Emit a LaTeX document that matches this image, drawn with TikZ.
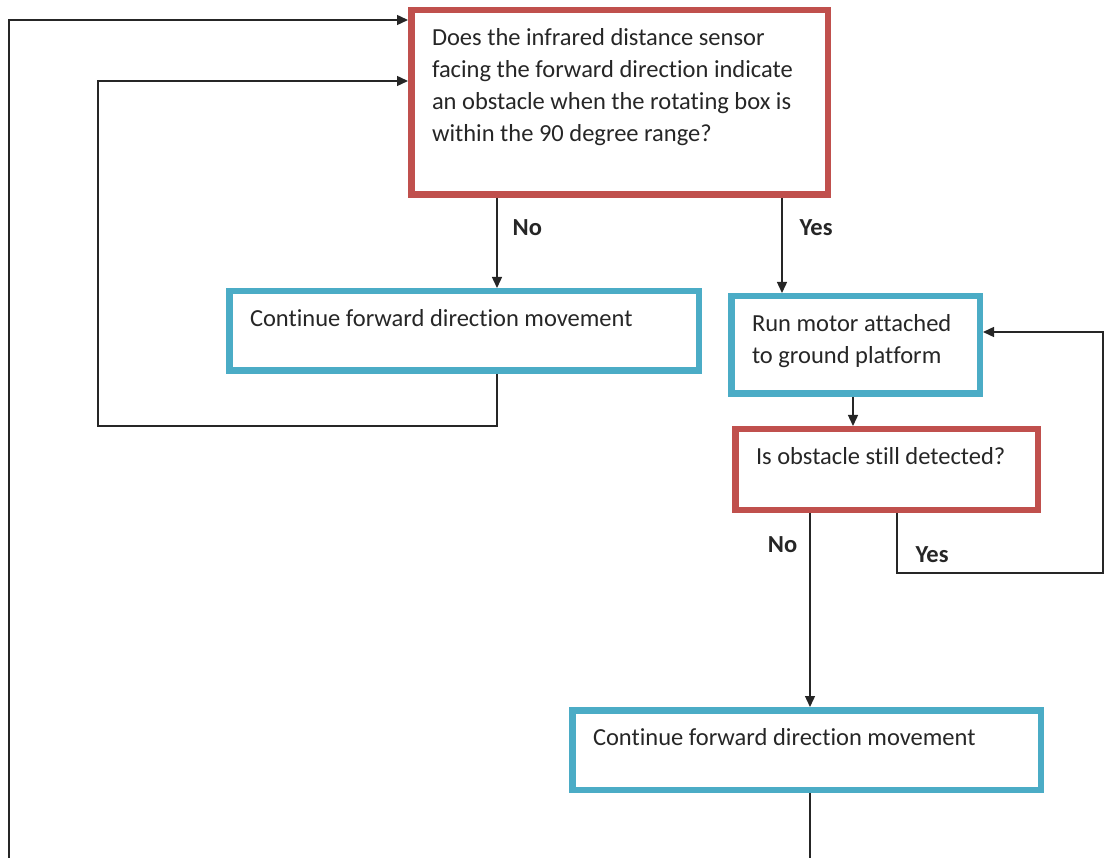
\documentclass[tikz,border=0pt]{standalone}
\usepackage{fontspec}
\setmainfont{Carlito}[Ligatures=NoCommon]
\usepackage{tikz}
\usetikzlibrary{arrows.meta}

\definecolor{boxred}{RGB}{192,80,77}
\definecolor{boxblue}{RGB}{75,172,198}

\begin{document}
\begin{tikzpicture}[x=1pt,y=-1pt,->,>={Triangle[length=11pt,width=10pt]},line width=1.4pt,draw=black!85,
	box/.style={draw,line width=6.5pt,inner xsep=20.75pt,inner ysep=13.5pt,anchor=north west,text=black!85,font=\fontsize{24.5}{31.7}\selectfont},
	red box/.style={box,draw=boxred},
	blue box/.style={box,draw=boxblue},
	tag/.style={inner sep=0pt,text=black!85,font=\fontsize{24.5}{30}\selectfont\bfseries}]

				\useasboundingbox (0,0) rectangle (1106,858);
				\clip (0,0) rectangle (1106,858);

				\node[red box] (q1) at (408,7) {\parbox[t][157.5pt][t]{375pt}{\strut Does the infrared distance sensor\\facing the forward direction indicate\\an obstacle when the rotating box is\\within the 90 degree range?}};
				\node[blue box] (c1) at (226,288) {\parbox[t][52.5pt][t]{428pt}{\strut Continue forward direction movement}};
				\node[blue box] (run) at (728,293) {\parbox[t][70.5pt][t]{207pt}{\strut Run motor attached\\to ground platform}};
				\node[red box] (q2) at (732,426) {\parbox[t][53.5pt][t]{261pt}{\strut Is obstacle still detected?}};
				\node[blue box] (c2) at (569,707) {\parbox[t][52.5pt][t]{427pt}{\strut Continue forward direction movement}};

				% branch points and corners
				\coordinate (noA) at ([xshift=89pt]q1.south west);
				\coordinate (yesA) at ([xshift=374pt]q1.south west);
				\coordinate (dE) at ([xshift=125pt]run.south west);
				\coordinate (noC) at ([xshift=78pt]q2.south west);
				\coordinate (yesB) at ([xshift=165pt]q2.south west);
				\coordinate (inB) at (98,426);
				\coordinate (outA) at (9,870);
				\coordinate (rtG) at (1103,573);

				\draw (noA) -- node[tag,right,pos=.33,xshift=15pt] {No} (noA |- c1.north);
				\draw (yesA) -- node[tag,right,pos=.31,xshift=17pt] {Yes} (yesA |- run.north);
				\draw (dE) -- (dE |- q2.north);
				\draw (noC) -- node[tag,left,pos=.165,xshift=-12pt] {No} (noC |- c2.north);
				\draw (yesB) |- node[tag,right,pos=.35,xshift=18pt] {Yes} (rtG) |- ([yshift=13pt]run.east);

				% loops back to the first question
				\draw (noA |- c1.south) |- (inB) |- ([yshift=21.5pt]q1.west);
				\draw (noC |- c2.south) |- (outA) |- ([yshift=82.5pt]q1.west);

\end{tikzpicture}
\end{document}
